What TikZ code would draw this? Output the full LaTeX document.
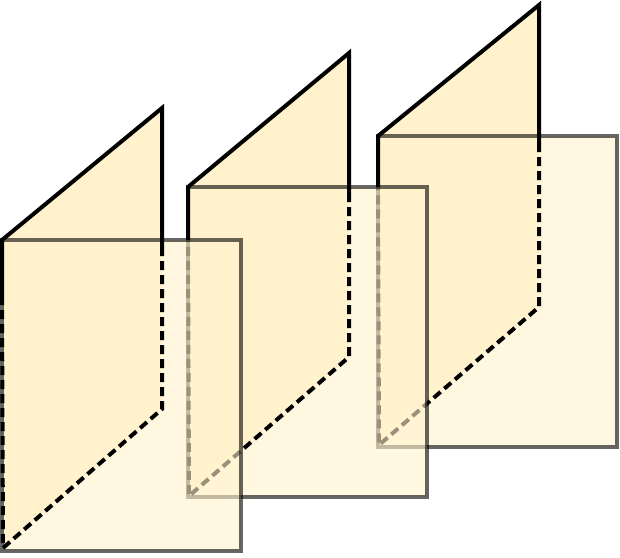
\documentclass[tikz,border=0pt]{standalone}
\definecolor{paper}{HTML}{FFF2CC}
\begin{document}
\begin{tikzpicture}[x=1pt,y=-1pt,
  pagefill/.style={fill=paper},
  sheet/.style={fill=paper, draw=black, opacity=0.6, line width=4pt},
  fold/.style={draw=black, line width=4pt, line join=miter},
  folddash/.style={draw=black, line width=4pt, dash pattern=on 9pt off 5pt}]
\useasboundingbox (0,0) rectangle (620,557);
% ---------- group 3 (back) ----------
\coordinate (A3) at (378,136);
\coordinate (B3) at (539,5);
\coordinate (C3) at (539,307);
\coordinate (D3) at (379,445);
\coordinate (L3) at (378,187);
\coordinate (R3) at (539,143);
\coordinate (S3a) at (378,136);
\coordinate (S3b) at (617,447);
\fill[pagefill] (A3) -- (B3) -- (C3) -- (D3) -- cycle;
\path[sheet] (S3a) rectangle (S3b);
\draw[fold] (L3) -- (A3) -- (B3) -- (R3);
\draw[folddash] (R3) -- (C3) -- (D3) -- (L3);
% ---------- group 2 ----------
\coordinate (A2) at (188,187);
\coordinate (B2) at (349,53);
\coordinate (C2) at (349,357);
\coordinate (D2) at (189,496);
\coordinate (L2) at (188,240);
\coordinate (R2) at (349,193);
\coordinate (S2a) at (188,187);
\coordinate (S2b) at (427,497);
\fill[pagefill] (A2) -- (B2) -- (C2) -- (D2) -- cycle;
\path[sheet] (S2a) rectangle (S2b);
\draw[fold] (L2) -- (A2) -- (B2) -- (R2);
\draw[folddash] (R2) -- (C2) -- (D2) -- (L2);
% ---------- group 1 (front) ----------
\coordinate (A1) at (2,240);
\coordinate (B1) at (162,108);
\coordinate (C1) at (162,409);
\coordinate (D1) at (3,548);
\coordinate (L1) at (2,297);
\coordinate (R1) at (162,247);
\coordinate (S1a) at (2,240);
\coordinate (S1b) at (241,551);
\fill[pagefill] (A1) -- (B1) -- (C1) -- (D1) -- cycle;
\path[sheet] (S1a) rectangle (S1b);
\draw[fold] (L1) -- (A1) -- (B1) -- (R1);
\draw[folddash] (R1) -- (C1) -- (D1) -- (L1);
\end{tikzpicture}
\end{document}
